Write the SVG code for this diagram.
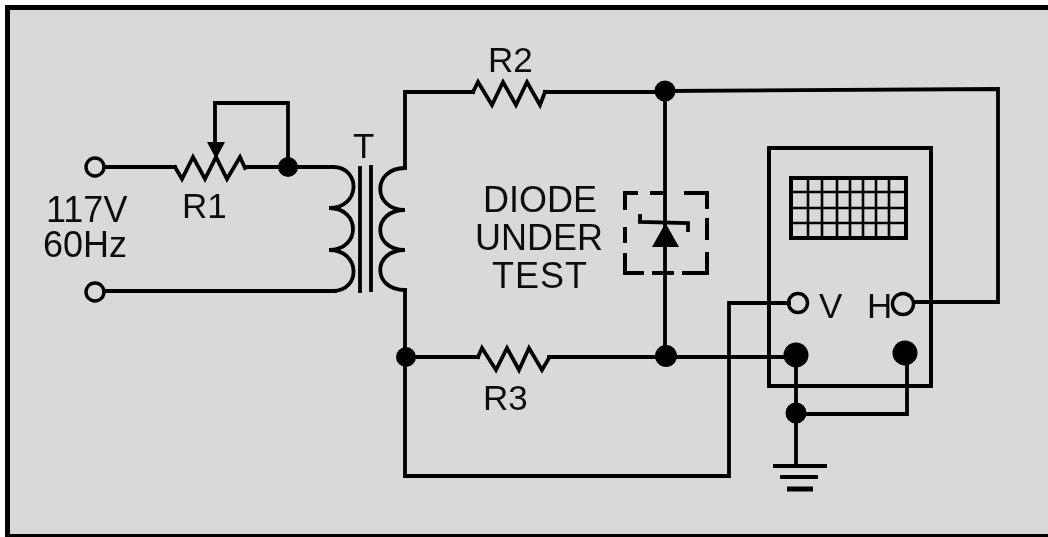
<svg xmlns="http://www.w3.org/2000/svg" width="1048" height="537" viewBox="0 0 1048 537">
<style>
.w{fill:none;stroke:#000;stroke-width:3.8;stroke-linejoin:miter;stroke-linecap:square}
.t{fill:none;stroke:#000;stroke-width:3.4}
.s{fill:none;stroke:#000;stroke-width:2.6}
.d{fill:#000;stroke:none}
text{font-family:"Liberation Sans",Arial,sans-serif;font-size:35px;fill:#111}
.l{font-size:36px}
</style>
<defs><filter id="b" x="-2%" y="-2%" width="104%" height="104%"><feGaussianBlur stdDeviation="0.55"/></filter></defs>
<rect width="1048" height="537" fill="#fff"/>
<rect x="5" y="5" width="1043" height="532" fill="#000"/>
<rect x="10" y="10" width="1038" height="524" fill="#d9d9d9"/>
<g filter="url(#b)">
<g id="connectors">
<path class="w" d="M105 167H175M245 167H288V103H215V142M288 167H333"/>
<path class="w" d="M105 291H335"/>
<path class="w" d="M405 168V92H473M545 92H665M665 91L998 89V302H914"/>
<path class="w" d="M665 91V357"/>
<path class="w" d="M405 290V476H729V303H789"/>
<path class="w" d="M406 357H478M549 357H796"/>
<path class="w" d="M796 355V465M796 414H907V353"/>
</g>
<g id="terminal-top"><circle class="t" cx="95" cy="167" r="9"/></g>
<g id="terminal-bottom"><circle class="t" cx="95" cy="292" r="9"/></g>
<g id="label-117v"><text class="l" x="46" y="222">117V</text><text class="l" x="43" y="257">60Hz</text></g>
<g id="R1"><path class="w" d="M175 167L182 179L193 157L205 179L216 157L227 179L240 157L245 168"/><path class="d" d="M207 142H225L216 159Z"/><text x="182" y="218">R1</text></g>
<g id="junction-r1"><circle class="d" cx="288" cy="167" r="10"/></g>
<g id="T">
<path class="w" d="M333 167C361 167 361 208 329 208C361 208 361 250 329 250C361 250 361 291 333 291"/>
<path class="w" d="M405 168C372 168 372 210 405 210C372 210 372 250 405 250C372 250 372 290 405 290"/>
<path class="w" d="M360 168V291M371 167V290"/>
<text x="353" y="158">T</text>
</g>
<g id="R2"><path class="w" d="M473 92L478 82L492 105L503 82L516 105L527 82L540 105L545 92"/><text x="488" y="72">R2</text></g>
<g id="R3"><path class="w" d="M478 357L482 348L496 370L507 348L519 370L529 348L542 370L549 358"/><text x="483" y="410">R3</text></g>
<g id="junction-top"><circle class="d" cx="665" cy="91" r="10.5"/></g>
<g id="junction-r3"><circle class="d" cx="406" cy="357" r="10"/></g>
<g id="junction-right"><circle class="d" cx="666" cy="356" r="11"/></g>
<g id="diode-label"><text class="l" x="483" y="212">DIODE</text><text class="l" x="475" y="250">UNDER</text><text class="l" x="492" y="288" letter-spacing="1">TEST</text></g>
<g id="diode">
<path class="w" style="stroke-width:4;stroke-linecap:butt" d="M638 193H625V210M625 227V243M625 253V273H644M652 273H674M682 273H707V252M707 240V218M707 209V193H684M650 193H664"/>
<path class="w" style="stroke-linecap:butt" d="M640 214V222L688 223V232"/>
<path class="d" d="M665.5 223L652 247H679Z"/>
</g>
<g id="scope">
<rect class="w" x="769" y="148" width="162" height="238" style="stroke-width:4"/>
<rect class="w" x="791" y="178" width="115" height="60" style="stroke-width:4"/>
<path class="s" d="M808 178V238M822 178V238M837 178V238M850 178V238M863 178V238M876 178V238M889 178V238M791 192H906M791 208H906M791 223H906"/>
<circle class="t" cx="798" cy="303" r="9.5" fill="#d9d9d9"/>
<circle class="t" cx="903" cy="304" r="10.5" fill="#d9d9d9"/>
<text x="819" y="318">V</text><text x="867" y="318">H</text>
<circle class="d" cx="796" cy="355" r="12.5"/>
<circle class="d" cx="905" cy="353" r="12.5"/>
</g>
<g id="junction-ground"><circle class="d" cx="796" cy="413" r="10.5"/></g>
<g id="ground"><path class="w" style="stroke-width:4;stroke-linecap:butt" d="M773 466H827M780 477H818"/><path class="w" style="stroke-width:5;stroke-linecap:butt" d="M787 489H813"/></g>
</g>
</svg>
